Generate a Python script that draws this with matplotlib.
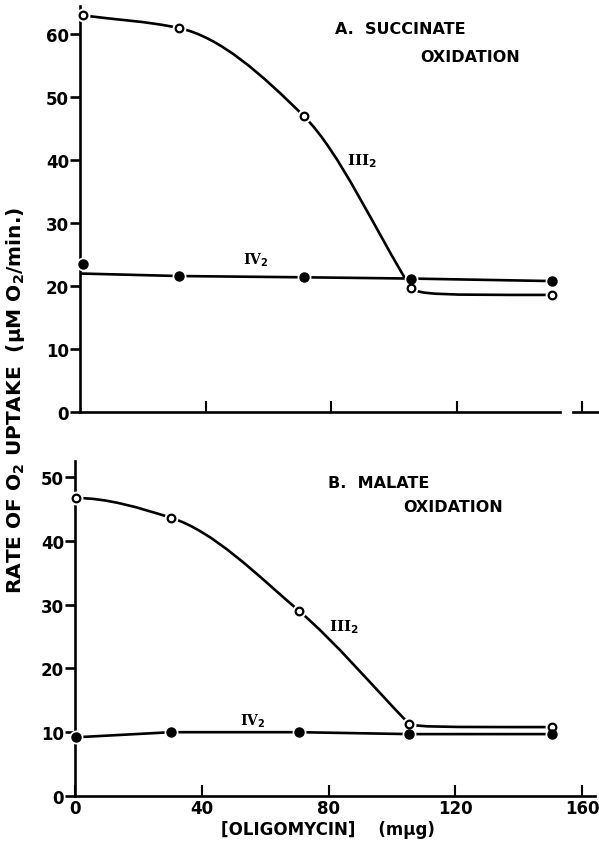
import matplotlib
matplotlib.use("Agg")
import matplotlib.pyplot as plt
from matplotlib.path import Path
from matplotlib.patches import PathPatch

# ---------------- data ----------------
oligomycin_A = [1, 31.5, 71.3, 105.4, 150.3]
A_state3 = [63.0, 61.0, 47.0, 19.7, 18.6]
A_state4 = [23.5, 21.6, 21.4, 21.2, 20.8]
A_state4_line_start = 22.0   # where the IV2 line meets the axis

oligomycin_B = [0.3, 30.3, 70.7, 105.4, 150.5]
B_state3 = [46.7, 43.6, 29.0, 11.3, 10.8]
B_state4 = [9.2, 10.0, 10.0, 9.7, 9.7]

x_ticks = [0, 40, 80, 120, 160]
A_yticks = [0, 10, 20, 30, 40, 50, 60]
B_yticks = [0, 10, 20, 30, 40, 50]

# ---------------- style ----------------
plt.rcParams['font.family'] = ['DejaVu Sans']
plt.rcParams['font.weight'] = 'bold'
LW = 1.9
FS = 12

fig = plt.figure(figsize=(5.99, 8.45), dpi=100)

W, H = 599.0, 845.0
def fx(px): return px / W
def fy(py): return 1 - py / H

axA = fig.add_axes([fx(80), fy(413), (164 * 3.14) / W, (413 - 7) / H])
axB = fig.add_axes([fx(75), fy(797), (164 * 3.17) / W, (797 - 462) / H])


def smooth_path(xs, ys, flat_start=False):
    """Monotone (harmonic-mean tangent) curve through the points, as a
    cubic Bezier path."""
    n = len(xs)
    h = [xs[i + 1] - xs[i] for i in range(n - 1)]
    d = [(ys[i + 1] - ys[i]) / h[i] for i in range(n - 1)]
    m = [0.0] * n
    m[0] = 0.0 if flat_start else d[0]
    m[-1] = d[-1]
    for i in range(1, n - 1):
        if d[i - 1] * d[i] <= 0:
            m[i] = 0.0
        else:
            w1 = 2 * h[i] + h[i - 1]
            w2 = h[i] + 2 * h[i - 1]
            m[i] = (w1 + w2) / (w1 / d[i - 1] + w2 / d[i])
    verts = [(xs[0], ys[0])]
    codes = [Path.MOVETO]
    for i in range(n - 1):
        c1 = (xs[i] + h[i] / 3, ys[i] + m[i] * h[i] / 3)
        c2 = (xs[i + 1] - h[i] / 3, ys[i + 1] - m[i + 1] * h[i] / 3)
        verts += [c1, c2, (xs[i + 1], ys[i + 1])]
        codes += [Path.CURVE4] * 3
    return verts, codes


def tail_path(p, q):
    """Quick drop then flat from p to q."""
    dx = q[0] - p[0]
    verts = [p, (p[0] + 0.06 * dx, q[1]), (p[0] + 0.2 * dx, q[1]), q]
    codes = [Path.MOVETO, Path.CURVE4, Path.CURVE4, Path.CURVE4]
    return verts, codes


def draw_curve(ax, verts, codes):
    ax.add_patch(PathPatch(Path(verts, codes), facecolor='none',
                           edgecolor='black', lw=LW, zorder=2,
                           capstyle='round'))


def draw_markers(ax, xs, ys, filled):
    ax.plot(xs, ys, 'o', ms=9, color='white', zorder=3, clip_on=False)
    if filled:
        ax.plot(xs, ys, 'o', ms=6.5, mfc='black', mec='black', zorder=4,
                clip_on=False)
    else:
        ax.plot(xs, ys, 'o', ms=5.5, mfc='white', mec='black', mew=1.6,
                zorder=4, clip_on=False)


def style_axes(ax, ymax, yt):
    ax.set_xlim(0, 164)
    ax.set_ylim(0, ymax)
    for s in ['top', 'right']:
        ax.spines[s].set_visible(False)
    for s in ['left', 'bottom']:
        ax.spines[s].set_linewidth(LW)
    ax.set_yticks(yt)
    ax.set_xticks(x_ticks[1:])
    ax.tick_params(axis='y', direction='out', length=7, width=LW,
                   labelsize=FS, pad=1)
    ax.tick_params(axis='x', direction='in', length=8, width=1.5,
                   labelsize=FS, pad=2)
    for lab in ax.get_yticklabels() + ax.get_xticklabels():
        lab.set_fontweight('bold')


# ---------------- Panel A ----------------
style_axes(axA, 64.5, A_yticks)
axA.set_xticklabels([])
axA.spines['bottom'].set_bounds(0, 153)
axA.plot([157, 165], [0, 0], color='black', lw=LW, clip_on=False)
axA.set_xticks(x_ticks[1:])

v, c = smooth_path(oligomycin_A[:4], A_state3[:4])
draw_curve(axA, v, c)
v, c = tail_path((oligomycin_A[3], A_state3[3]), (oligomycin_A[4], A_state3[4]))
draw_curve(axA, v, c)
axA.plot([0] + oligomycin_A[1:], [A_state4_line_start] + A_state4[1:],
         color='black', lw=LW, zorder=2)
draw_markers(axA, oligomycin_A, A_state3, filled=False)
draw_markers(axA, oligomycin_A, A_state4, filled=True)

axA.text(85, 40, r'III$_{\mathbf{2}}$', fontsize=11, fontweight='bold',
         family='DejaVu Serif', ha='left', va='center')
axA.text(52, 24.3, r'IV$_{\mathbf{2}}$', fontsize=10, fontweight='bold',
         family='DejaVu Serif', ha='left', va='center')

fig.text(fx(335), fy(30), 'A.  SUCCINATE', fontsize=11.5, fontweight='bold',
         ha='left', va='center')
fig.text(fx(420), fy(58), 'OXIDATION', fontsize=11.5, fontweight='bold',
         ha='left', va='center')

# ---------------- Panel B ----------------
style_axes(axB, 52.5, B_yticks)
axB.set_xticks(x_ticks)
axB.set_xticklabels([str(t) for t in x_ticks])

v, c = smooth_path(oligomycin_B[:4], B_state3[:4], flat_start=True)
draw_curve(axB, v, c)
v, c = tail_path((oligomycin_B[3], B_state3[3]), (oligomycin_B[4], B_state3[4]))
draw_curve(axB, v, c)
axB.plot(oligomycin_B, B_state4, color='black', lw=LW, zorder=2)
draw_markers(axB, oligomycin_B, B_state3, filled=False)
draw_markers(axB, oligomycin_B, B_state4, filled=True)

axB.text(80, 26.6, r'III$_{\mathbf{2}}$', fontsize=11, fontweight='bold',
         family='DejaVu Serif', ha='left', va='center')
axB.text(52, 11.8, r'IV$_{\mathbf{2}}$', fontsize=10, fontweight='bold',
         family='DejaVu Serif', ha='left', va='center')

fig.text(fx(328), fy(484), 'B.  MALATE', fontsize=11.5, fontweight='bold',
         ha='left', va='center')
fig.text(fx(403), fy(508), 'OXIDATION', fontsize=11.5, fontweight='bold',
         ha='left', va='center')

fig.text(fx(328), fy(830), '[OLIGOMYCIN]    (m\u03bcg)', fontsize=12,
         fontweight='bold', ha='center', va='center')

fig.text(fx(16), fy(400), 'RATE OF O$_{\\mathbf{2}}$ UPTAKE  (\u03bcM O$_{\\mathbf{2}}$/min.)',
         rotation=90, fontsize=14.5, fontweight='bold', ha='center',
         va='center')

fig.savefig('out.png', dpi=100)
